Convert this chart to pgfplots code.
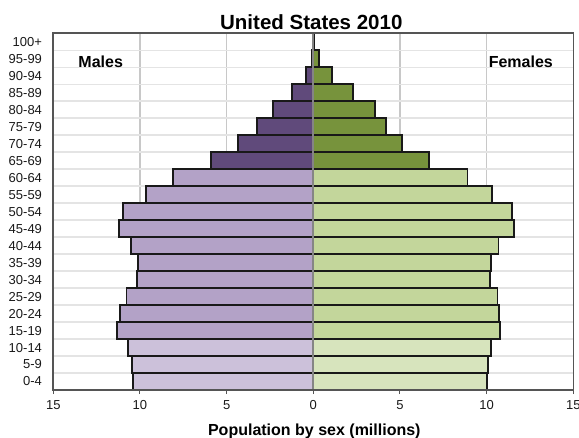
\documentclass[border=0pt]{standalone}
\usepackage{fontspec}
\setmainfont{Liberation Sans}
\usepackage{pgfplots}
\usepackage{pgfplotstable}
\pgfplotsset{compat=1.18}

\definecolor{maleDark}{HTML}{604A7B}
\definecolor{maleMid}{HTML}{B3A2C7}
\definecolor{maleLight}{HTML}{CCC1DA}
\definecolor{femDark}{HTML}{77933C}
\definecolor{femMid}{HTML}{C3D69B}
\definecolor{femLight}{HTML}{D7E4BD}
\definecolor{frameGray}{HTML}{555555}
\definecolor{vgrid}{HTML}{C8C8C8}
\definecolor{hgrid}{HTML}{E4E4E4}
\definecolor{zeroGray}{HTML}{858585}

% population in millions; age group index 0 = 0-4 ... 20 = 100+
% males are stored as negative values so they extend to the left
\pgfplotstableread{
age pop
0 -10.42
1 -10.46
2 -10.70
}\maleyoung
\pgfplotstableread{
age pop
3 -11.32
4 -11.13
5 -10.78
6 -10.19
7 -10.11
8 -10.51
9 -11.19
10 -10.99
11 -9.65
12 -8.11
}\maleadult
\pgfplotstableread{
age pop
13 -5.88
14 -4.33
15 -3.25
16 -2.34
17 -1.21
18 -0.42
19 -0.10
20 -0.009
}\maleold
\pgfplotstableread{
age pop
0 10.00
1 10.07
2 10.25
}\femyoung
\pgfplotstableread{
age pop
3 10.78
4 10.71
5 10.63
6 10.19
7 10.25
8 10.69
9 11.56
10 11.46
11 10.32
12 8.90
}\femadult
\pgfplotstableread{
age pop
13 6.67
14 5.13
15 4.19
16 3.56
17 2.31
18 1.08
19 0.33
20 0.044
}\femold

\begin{document}
\begin{tikzpicture}
\begin{axis}[
  at={(53.3bp,48bp)}, anchor=south west,
  scale only axis, width=520bp, height=356.7bp,
  xmin=-15, xmax=15, ymin=-0.5, ymax=20.5,
  clip=false,
  xbar, bar width=1, bar shift=0pt,
  xtick={-15,-10,...,15},
  xticklabels={15,10,5,0,5,10,15},
  ytick={0,...,20},
  yticklabels={0-4,5-9,10-14,15-19,20-24,25-29,30-34,35-39,40-44,45-49,50-54,55-59,60-64,65-69,70-74,75-79,80-84,85-89,90-94,95-99,100+},
  minor ytick={0.5,1.5,...,19.5},
  yminorgrids=true, xmajorgrids=true,
  minor tick length=0pt,
  tick align=outside, major tick length=4bp,
  xtick pos=lower, ytick pos=left,
  x tick style={draw=frameGray, line width=1bp},
  y tick style={draw=none},
  major grid style={draw=vgrid, line width=1.2bp},
  minor grid style={draw=hgrid, line width=1.5bp},
  axis line style={draw=frameGray, line width=1.6bp},
  ticklabel style={font=\fontsize{13bp}{15bp}\selectfont, text=black!90},
  xticklabel style={yshift=-3bp},
  yticklabel style={xshift=-3.8bp},
  /pgf/number format/assume math mode=true,
  every axis plot/.append style={draw=black!90, line width=1.8bp},
]
\addplot[fill=maleLight] table[x=pop,y=age] {\maleyoung};
\addplot[fill=maleMid] table[x=pop,y=age] {\maleadult};
\addplot[fill=maleDark] table[x=pop,y=age] {\maleold};
\addplot[fill=femLight] table[x=pop,y=age] {\femyoung};
\addplot[fill=femMid] table[x=pop,y=age] {\femadult};
\addplot[fill=femDark] table[x=pop,y=age] {\femold};

% zero line over the bars
\draw[zeroGray, line width=2.3bp] (axis cs:0,-0.5) -- (axis cs:0,20.5);
% outer frame redrawn on top
\draw[frameGray, line width=1.6bp] (rel axis cs:0,0) rectangle (rel axis cs:1,1);

\node[anchor=base, font=\bfseries\fontsize{16bp}{18bp}\selectfont]
  at ([xshift=47.4bp, yshift=-34.2bp]rel axis cs:0,1) {Males};
\node[anchor=base, font=\bfseries\fontsize{16bp}{18bp}\selectfont]
  at ([xshift=467.5bp, yshift=-34.2bp]rel axis cs:0,1) {Females};

\node[anchor=base, font=\bfseries\fontsize{20.5bp}{23bp}\selectfont]
  at ([xshift=-2bp, yshift=4bp]rel axis cs:0.5,1) {United States 2010};
\node[anchor=base, font=\bfseries\fontsize{16bp}{18bp}\selectfont]
  at ([xshift=1bp, yshift=-45.3bp]rel axis cs:0.5,0) {Population by sex (millions)};
\end{axis}
\pgfresetboundingbox
\path (0,0) rectangle (579bp,438bp);
\end{tikzpicture}
\end{document}
